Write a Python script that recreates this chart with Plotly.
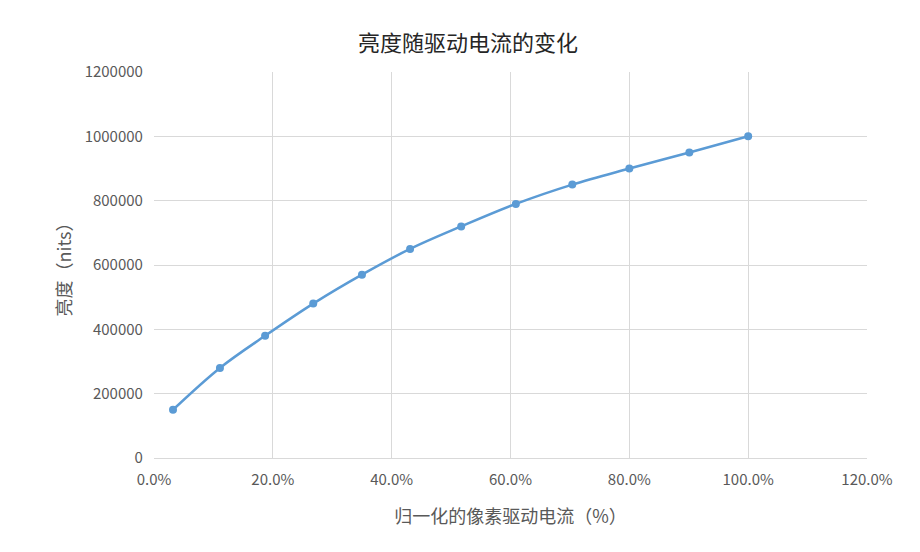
import plotly.graph_objects as go

x_pct = [0.032, 0.111, 0.187, 0.268, 0.350, 0.431, 0.517, 0.609, 0.704, 0.800, 0.901, 1.0]
brightness = [150000, 280000, 380000, 480000, 570000, 650000, 720000, 790000, 850000, 900000, 950000, 1000000]

font = "Microsoft YaHei, Noto Sans CJK SC, sans-serif"
fig = go.Figure(go.Scatter(x=x_pct, y=brightness, mode="lines+markers",
    line=dict(color="#5B9BD5", width=2.5, shape="spline"),
    marker=dict(color="#5B9BD5", size=8)))
fig.update_layout(
    width=920, height=552, plot_bgcolor="white", paper_bgcolor="white",
    margin=dict(l=146, r=61, t=64, b=102),
    title=dict(text="亮度随驱动电流的变化", x=0.5, xanchor="center", y=0.95,
               font=dict(family=font, size=22, color="#262626")),
    showlegend=False,
    font=dict(family=font, size=15, color="#595959"),
    xaxis=dict(range=[0, 1.2], dtick=0.2, tickformat=".1%", showgrid=True,
               gridcolor="#D9D9D9", zeroline=False, showline=True, linecolor="#D9D9D9",
               ticks="outside", ticklen=8, tickcolor="rgba(0,0,0,0)",
               title=dict(text="归一化的像素驱动电流（%）", standoff=22)),
    yaxis=dict(range=[0, 1200000], dtick=200000, tickformat="d", showgrid=True,
               gridcolor="#D9D9D9", zeroline=False, ticksuffix="   ",
               title=dict(text="亮度（nits）", standoff=8)),
)
fig.write_html("out.html")
